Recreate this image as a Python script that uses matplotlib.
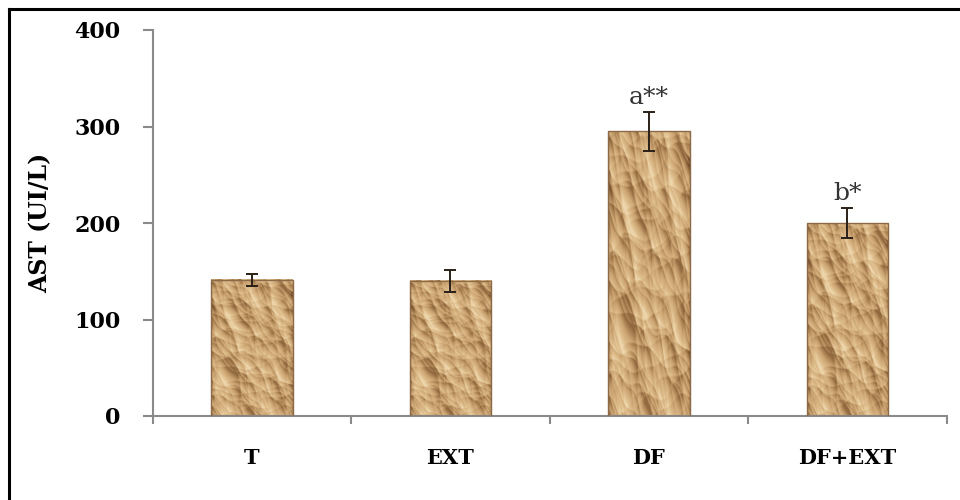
import matplotlib
matplotlib.use("Agg")
import matplotlib.pyplot as plt
import numpy as np
from matplotlib.colors import LinearSegmentedColormap
from matplotlib.lines import Line2D

groups = ["T", "EXT", "DF", "DF+EXT"]
ast_mean = [141, 140, 295, 200]
ast_err = [6, 11, 20, 16]
sig_labels = ["", "", "a**", "b*"]

SERIF = "DejaVu Serif"


def crumpled_paper(nx=160, ny=260):
    """Height field of overlapping creases, lit from the upper left."""
    y, x = np.mgrid[0:1:ny * 1j, 0:1:nx * 1j]
    h = np.zeros_like(x)
    for i in range(18):
        # half the creases run roughly along the diagonal, the rest anywhere
        if i % 2 == 0:
            ang = -0.75 + 0.35 * np.sin(i * 1.9)
        else:
            ang = i * 2.39996
        freq = 1.5 + (i * 1.618) % 3.2
        phase = i * 1.37
        u = np.cos(ang) * x * 1.0 + np.sin(ang) * y * 1.6
        # bend the crease lines so they don't look ruled
        u += 0.05 * np.sin(8.0 * (x * np.sin(ang) - y * np.cos(ang)) + i * 0.7)
        u += 0.02 * np.sin(21.0 * (x * np.cos(ang + 1) + y * np.sin(ang + 1)) + i)
        h += np.abs(np.sin(np.pi * freq * u + phase)) ** 0.7 / freq
    gy, gx = np.gradient(h)
    light = np.array([-0.55, 0.85])
    shade = -(gx * light[0] + gy * light[1])
    lo, hi = np.percentile(shade, [2, 99])
    shade = np.clip((shade - lo) / (hi - lo), 0, 1)
    # darker rim along the sides
    rim = np.minimum(x, 1 - x)
    shade -= 0.25 * np.exp(-rim / 0.035)
    return shade


paper_cmap = LinearSegmentedColormap.from_list(
    "paper", ["#6e4a28", "#a37a4c", "#cba472", "#dcba88", "#eed6ac"]
)
texture = crumpled_paper()

fig, ax = plt.subplots(figsize=(9.6, 5.0), dpi=100)
fig.subplots_adjust(left=0.159, right=0.986, bottom=0.168, top=0.94)

xpos = np.arange(len(groups))
width = 0.41
bars = ax.bar(xpos, ast_mean, width=width, facecolor="none",
              edgecolor="#8c6a48", linewidth=1.0, zorder=3)

# fill each bar with the same stretched paper texture
for bar in bars:
    x0 = bar.get_x()
    ax.imshow(texture, cmap=paper_cmap, extent=[x0, x0 + bar.get_width(), 0, bar.get_height()],
              aspect="auto", interpolation="bilinear", zorder=2, vmin=-0.2, vmax=1.0)

ax.errorbar(xpos, ast_mean, yerr=ast_err, fmt="none", ecolor="#2a2018",
            elinewidth=1.4, capsize=4.5, capthick=1.4, zorder=4)

for x, m, e, lab in zip(xpos, ast_mean, ast_err, sig_labels):
    if lab:
        ax.annotate(lab, (x, m + e), xytext=(0, 2), textcoords="offset points",
                    ha="center", va="bottom", fontsize=18, family=SERIF, color="#333333")

ax.set_xlim(-0.5, len(groups) - 0.5)
ax.set_ylim(0, 400)
ax.set_yticks([0, 100, 200, 300, 400])
ax.set_yticklabels(["0", "100", "200", "300", "400"], fontsize=16,
                   fontweight="bold", family=SERIF)

# category labels between the boundary ticks
ax.set_xticks(np.arange(len(groups) + 1) - 0.5)
ax.set_xticklabels([])
ax.set_xticks(xpos, minor=True)
ax.set_xticklabels(groups, minor=True, fontsize=15, fontweight="bold", family=SERIF)
ax.tick_params(axis="x", which="major", direction="out", length=6, color="#8a8a8a", width=1.5)
ax.tick_params(axis="x", which="minor", length=0, pad=23)
ax.tick_params(axis="y", direction="out", length=7, color="#8a8a8a", width=1.5, pad=16)

ax.set_ylabel("AST (UI/L)", fontsize=17, fontweight="bold", family=SERIF, labelpad=16)

for side in ["top", "right"]:
    ax.spines[side].set_visible(False)
for side in ["left", "bottom"]:
    ax.spines[side].set_color("#8a8a8a")
    ax.spines[side].set_linewidth(1.5)

# frame around the figure (top and left edges)
fig.add_artist(Line2D([0.009, 1.0], [0.982, 0.982], transform=fig.transFigure,
                      color="black", linewidth=2.2))
fig.add_artist(Line2D([0.009, 0.009], [0.0, 0.982], transform=fig.transFigure,
                      color="black", linewidth=2.2))

fig.savefig("out.png", dpi=100)
